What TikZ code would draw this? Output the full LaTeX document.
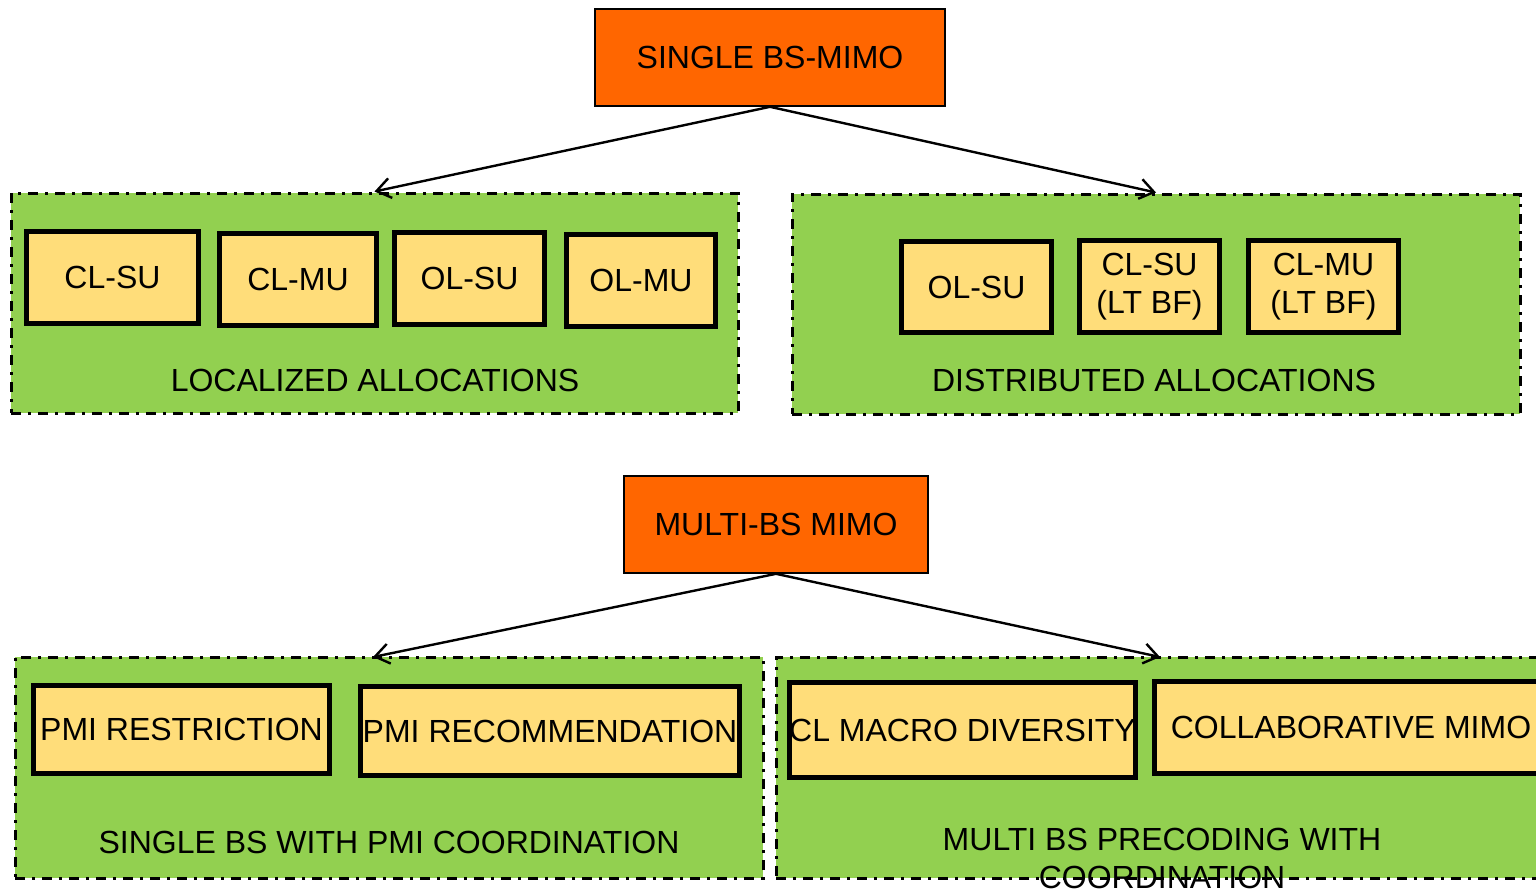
\documentclass[tikz,border=0pt]{standalone}
\usepackage{fontspec}
\setmainfont{Liberation Sans}
\usepackage{xcolor}
\usetikzlibrary{arrows.meta}

\definecolor{bsorange}{HTML}{FF6600}
\definecolor{grpgreen}{HTML}{92D050}
\definecolor{modeyellow}{HTML}{FFDD7A}

\tikzset{
  txt/.style={font=\fontsize{16}{19}\selectfont, align=center, inner sep=0pt},
  rootbox/.style={txt, draw=black, line width=0.8pt, fill=bsorange},
  grpbox/.style={draw=black, line width=1.5pt, fill=grpgreen,
    dash pattern=on 5pt off 3.5pt on 1.5pt off 3.5pt, inner sep=0pt},
  modebox/.style={txt, draw=black, line width=2.6pt, fill=modeyellow},
  link/.style={line width=1.2pt, -{Straight Barb[length=7pt,width=10pt]}}
}

\begin{document}
\begin{tikzpicture}[x=0.5pt, y=-0.5pt]
  % Canvas of the reference picture
  \useasboundingbox (0,0) rectangle (1536,891);
  \clip (0,0) rectangle (1536,891);

  % Group frames
  \node[grpbox, minimum width=363.5pt, minimum height=110pt] (loc) at (374.5,303) {};
  \node[grpbox, minimum width=364pt, minimum height=110pt] (dist) at (1156,304) {};
  \node[grpbox, minimum width=374pt, minimum height=110.5pt] (pmi) at (389,767.5) {};
  \node[grpbox, minimum width=392pt, minimum height=110.5pt] (prec) at (1168,767.5) {};

  % Top level boxes
  \node[rootbox, minimum width=175pt, minimum height=48.5pt] (single) at (770,57.5) {SINGLE BS-MIMO};
  \node[rootbox, minimum width=152pt, minimum height=48.5pt] (multi) at (776,524.5) {MULTI-BS MIMO};

  % Localized allocations
  \node[modebox, minimum width=86pt, minimum height=46pt] (lclsu) at (112.5,277.5) {CL-SU};
  \node[modebox, minimum width=78.5pt, minimum height=46pt] (lclmu) at (298,279.5) {CL-MU};
  \node[modebox, minimum width=75pt, minimum height=46pt] (lolsu) at (469.5,278.5) {OL-SU};
  \node[modebox, minimum width=74.5pt, minimum height=46pt] (lolmu) at (641,280.5) {OL-MU};
  \node[txt] (loclabel) at (375,380) {LOCALIZED ALLOCATIONS};

  % Distributed allocations
  \node[modebox, minimum width=75pt, minimum height=45.5pt] (dolsu) at (976.5,287) {OL-SU};
  \node[modebox, minimum width=70pt, minimum height=46pt] (dclsu) at (1149.5,286.5) {CL-SU\\(LT BF)};
  \node[modebox, minimum width=75pt, minimum height=46pt] (dclmu) at (1323.5,286.5) {CL-MU\\(LT BF)};
  \node[txt] (distlabel) at (1154,380) {DISTRIBUTED ALLOCATIONS};

  % Single BS with PMI coordination
  \node[modebox, minimum width=148pt, minimum height=44pt] (restr) at (181.5,729.5) {PMI RESTRICTION};
  \node[modebox, minimum width=189.5pt, minimum height=44.5pt] (recom) at (550,731) {PMI RECOMMENDATION};
  \node[txt] (pmilabel) at (389,842) {SINGLE BS WITH PMI COORDINATION};

  % Multi BS precoding
  \node[modebox, minimum width=169pt, minimum height=47.5pt] (macro) at (962.5,730) {CL MACRO DIVERSITY};
  \node[modebox, minimum width=196.5pt, minimum height=46pt] (collab) at (1351,727.5) {COLLABORATIVE MIMO};
  \node[txt] (preclabel) at (1162,858) {MULTI BS PRECODING WITH\\COORDINATION};

  % Arrows
  \coordinate (tpmi) at (373,657);
  \coordinate (tprec) at (1160,657);
  \draw[link] (single.south) -- (loc.north);
  \draw[link] (single.south) -- (dist.north);
  \draw[link] (multi.south) -- (tpmi);
  \draw[link] (multi.south) -- (tprec);
\end{tikzpicture}
\end{document}
